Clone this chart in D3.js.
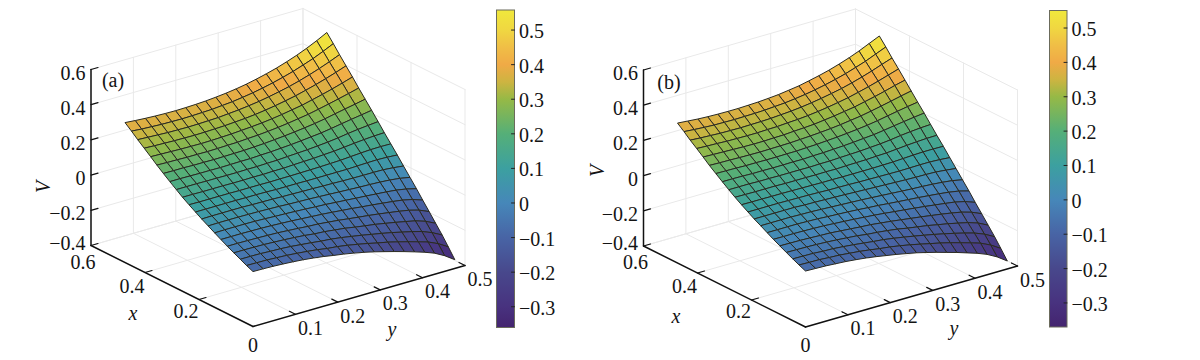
<!DOCTYPE html>
<html><head><meta charset="utf-8">
<script src="https://cdn.jsdelivr.net/npm/d3@7/dist/d3.min.js"></script>
<style>html,body{margin:0;padding:0;background:#fff}svg{display:block}text{font-family:"Liberation Serif",serif;fill:#141414}</style>
</head><body><svg id="c" width="1200" height="360"></svg>
<script>
const xGrid=[0,.024,.047,.071,.095,.119,.142,.166,.19,.213,.237,.261,.284,.308,.332,.356,.379,.403,.427,.45,.474];
const yGrid=[0,.024,.048,.071,.095,.119,.143,.167,.19,.214,.238,.262,.286,.309,.333,.357,.381,.405,.428,.452,.476];
const xTicks=[0,.2,.4,.6];
const yTicks=[0,.1,.2,.3,.4,.5];
const zTicks=[-.4,-.2,0,.2,.4,.6];
const barTicks=[-.3,-.2,-.1,0,.1,.2,.3,.4,.5];
const colorStops=[-.37,-.3,-.2,-.1,0,.1,.2,.3,.35,.4,.45,.5,.56];
const colorValues=["#44246f","#48327f","#48488c","#4864a5","#4687b9","#3ca0a0","#55af78","#96b946","#cdb441","#f0aa46","#f0be46","#f0d741","#f0e83c"];
const surfaceA=[
[-.088,-.089,-.091,-.094,-.098,-.103,-.110,-.118,-.128,-.137,-.148,-.160,-.174,-.189,-.205,-.222,-.240,-.259,-.280,-.311,-.350],
[-.072,-.073,-.074,-.077,-.080,-.085,-.091,-.098,-.107,-.113,-.122,-.133,-.145,-.158,-.170,-.185,-.201,-.218,-.235,-.261,-.296],
[-.054,-.054,-.055,-.058,-.060,-.064,-.070,-.076,-.083,-.088,-.096,-.106,-.116,-.127,-.138,-.150,-.164,-.178,-.193,-.216,-.246],
[-.036,-.036,-.037,-.038,-.041,-.044,-.048,-.053,-.060,-.064,-.071,-.078,-.088,-.097,-.105,-.116,-.127,-.139,-.151,-.170,-.198],
[-.017,-.017,-.018,-.019,-.021,-.023,-.027,-.031,-.036,-.039,-.045,-.051,-.059,-.066,-.073,-.081,-.090,-.099,-.109,-.125,-.150],
[.003,.003,.003,.002,.001,-.001,-.004,-.007,-.011,-.015,-.019,-.024,-.030,-.035,-.042,-.048,-.055,-.062,-.070,-.083,-.103],
[.023,.024,.024,.024,.023,.021,.018,.016,.013,.010,.006,.003,-.002,-.006,-.011,-.015,-.020,-.025,-.031,-.041,-.056],
[.044,.045,.045,.045,.044,.043,.041,.039,.036,.034,.032,.029,.026,.023,.020,.017,.015,.012,.008,.001,-.010],
[.065,.066,.066,.066,.066,.064,.063,.062,.060,.059,.057,.056,.054,.053,.051,.050,.049,.049,.048,.043,.036],
[.087,.087,.087,.087,.087,.086,.086,.085,.083,.083,.083,.082,.082,.082,.082,.082,.084,.086,.087,.085,.081],
[.110,.109,.109,.109,.109,.108,.108,.108,.107,.108,.108,.109,.110,.111,.113,.115,.119,.123,.126,.127,.126],
[.134,.134,.133,.133,.133,.132,.132,.133,.132,.134,.134,.137,.139,.141,.145,.148,.154,.160,.165,.169,.171],
[.160,.160,.160,.159,.159,.158,.158,.159,.159,.161,.162,.166,.169,.172,.177,.182,.189,.198,.205,.211,.216],
[.187,.187,.186,.185,.185,.184,.185,.186,.186,.189,.191,.195,.199,.204,.210,.216,.225,.235,.244,.253,.262],
[.215,.214,.214,.212,.212,.211,.212,.213,.214,.217,.220,.225,.230,.236,.243,.251,.261,.273,.284,.295,.307],
[.244,.242,.241,.239,.239,.238,.239,.241,.242,.246,.249,.254,.260,.267,.276,.285,.297,.310,.323,.337,.352],
[.274,.272,.270,.268,.267,.266,.267,.269,.271,.275,.279,.284,.291,.299,.309,.319,.333,.347,.362,.379,.397],
[.304,.301,.299,.297,.296,.295,.296,.298,.300,.304,.308,.314,.322,.331,.342,.354,.369,.385,.402,.421,.442],
[.334,.331,.328,.325,.324,.323,.324,.326,.328,.333,.338,.345,.353,.363,.375,.388,.404,.422,.441,.463,.487],
[.365,.360,.357,.354,.353,.352,.353,.355,.357,.362,.367,.375,.384,.395,.408,.423,.440,.460,.480,.505,.532],
[.395,.390,.386,.383,.381,.380,.381,.383,.386,.391,.397,.405,.415,.427,.441,.457,.476,.497,.520,.547,.577]];
const surfaceB=[
[-.082,-.084,-.086,-.090,-.094,-.100,-.107,-.116,-.126,-.136,-.148,-.160,-.175,-.190,-.207,-.224,-.243,-.262,-.284,-.315,-.355],
[-.066,-.068,-.069,-.073,-.076,-.082,-.088,-.096,-.105,-.112,-.122,-.133,-.146,-.159,-.172,-.187,-.204,-.221,-.239,-.266,-.302],
[-.049,-.050,-.051,-.055,-.057,-.062,-.068,-.075,-.082,-.088,-.097,-.107,-.118,-.129,-.141,-.154,-.168,-.183,-.199,-.222,-.253],
[-.031,-.032,-.033,-.035,-.038,-.042,-.047,-.052,-.060,-.065,-.072,-.080,-.091,-.100,-.109,-.121,-.132,-.145,-.158,-.177,-.206],
[-.012,-.013,-.014,-.016,-.019,-.021,-.026,-.031,-.036,-.040,-.047,-.054,-.062,-.070,-.078,-.087,-.096,-.106,-.117,-.134,-.159],
[.007,.006,.006,.005,.003,.001,-.003,-.007,-.011,-.016,-.021,-.027,-.034,-.040,-.047,-.054,-.062,-.070,-.078,-.092,-.113],
[.027,.027,.027,.027,.025,.023,.019,.016,.013,.009,.004,.000,-.006,-.011,-.016,-.021,-.027,-.033,-.040,-.050,-.066],
[.048,.048,.048,.048,.046,.045,.042,.039,.036,.033,.030,.026,.022,.018,.014,.010,.007,.003,-.002,-.009,-.021],
[.068,.068,.068,.068,.068,.065,.064,.062,.060,.058,.055,.053,.050,.048,.045,.043,.041,.040,.038,.032,.025],
[.090,.090,.090,.090,.089,.088,.087,.085,.083,.082,.081,.079,.078,.077,.076,.075,.076,.077,.077,.074,.069],
[.113,.112,.112,.111,.111,.110,.109,.108,.107,.107,.106,.106,.106,.106,.107,.108,.111,.114,.116,.116,.115],
[.137,.136,.135,.135,.135,.133,.133,.133,.132,.133,.132,.134,.135,.136,.139,.141,.146,.151,.155,.158,.159],
[.162,.162,.162,.160,.160,.159,.159,.159,.158,.160,.160,.163,.165,.167,.171,.175,.181,.189,.195,.200,.203],
[.189,.189,.188,.186,.186,.185,.185,.186,.185,.188,.189,.192,.195,.199,.204,.209,.217,.226,.234,.242,.249],
[.217,.216,.215,.213,.213,.212,.212,.213,.213,.216,.218,.222,.226,.231,.237,.244,.253,.264,.274,.284,.293],
[.245,.243,.242,.240,.239,.238,.239,.240,.241,.244,.247,.251,.256,.262,.270,.278,.289,.301,.313,.326,.338],
[.275,.273,.271,.269,.267,.266,.266,.268,.269,.273,.276,.280,.287,.294,.303,.312,.325,.338,.352,.368,.382],
[.305,.302,.300,.297,.296,.295,.295,.297,.298,.302,.305,.310,.317,.325,.335,.346,.360,.375,.391,.409,.427],
[.334,.330,.327,.324,.323,.322,.323,.324,.326,.330,.334,.340,.348,.357,.368,.380,.395,.412,.430,.451,.471],
[.365,.360,.356,.353,.352,.351,.352,.353,.355,.359,.363,.370,.378,.388,.400,.414,.430,.449,.468,.492,.516],
[.395,.390,.385,.382,.380,.379,.379,.381,.383,.387,.392,.400,.408,.420,.433,.448,.466,.486,.508,.534,.560]];

const fmt=v=>(v<0?"\u2212":"")+(Math.abs(v)<1e-9?"0":String(+Math.abs(v).toFixed(1)));
const color=d3.scaleLinear().domain(colorStops).range(colorValues).clamp(true);
const svg=d3.select("#c");

function panel(cfg,surface){
  const g=svg.append("g");
  const xh=d3.scaleLinear().domain([0,.6]).range([0,-162]);
  const xv=d3.scaleLinear().domain([0,.6]).range([0,-81]);
  const yh=d3.scaleLinear().domain([0,.5]).range([0,212]);
  const yv=d3.scaleLinear().domain([0,.5]).range([0,-61]);
  const zv=d3.scaleLinear().domain([-.4,.6]).range([0,-176]);
  const P=(x,y,z)=>[cfg.ox+xh(x)+yh(y),cfg.oy+xv(x)+yv(y)+zv(z)];
  const seg=(a,b,col,w)=>g.append("line").attr("x1",a[0]).attr("y1",a[1]).attr("x2",b[0]).attr("y2",b[1]).attr("stroke",col).attr("stroke-width",w).attr("stroke-linecap","round");
  const gc="#e9e9e9", X=.6, Y=.5, Z0=-.4, Z1=.6;
  yTicks.forEach(y=>{seg(P(X,y,Z0),P(X,y,Z1),gc,1);seg(P(0,y,Z0),P(X,y,Z0),gc,1);});
  xTicks.forEach(x=>{seg(P(x,Y,Z0),P(x,Y,Z1),gc,1);seg(P(x,0,Z0),P(x,Y,Z0),gc,1);});
  zTicks.forEach(z=>{seg(P(X,0,z),P(X,Y,z),gc,1);seg(P(0,Y,z),P(X,Y,z),gc,1);});
  const cells=[];
  for(let i=xGrid.length-2;i>=0;i--)for(let j=yGrid.length-2;j>=0;j--)cells.push([i,j]);
  g.append("g").selectAll("path").data(cells).join("path")
    .attr("d",([i,j])=>"M"+[P(xGrid[i],yGrid[j],surface[i][j]),P(xGrid[i+1],yGrid[j],surface[i+1][j]),P(xGrid[i+1],yGrid[j+1],surface[i+1][j+1]),P(xGrid[i],yGrid[j+1],surface[i][j+1])].map(p=>p.map(v=>v.toFixed(2)).join(",")).join("L")+"Z")
    .attr("fill",([i,j])=>color((surface[i][j]+surface[i+1][j]+surface[i+1][j+1]+surface[i][j+1])/4))
    .attr("stroke","#2a2a22").attr("stroke-width",1).attr("stroke-linejoin","round");
  const ac="#111", aw=1.5;
  seg(P(X,0,Z0),P(X,0,Z1),ac,aw);
  seg(P(X,0,Z0),P(0,0,Z0),ac,aw);
  seg(P(0,0,Z0),P(0,Y,Z0),ac,aw);
  const label=(t,x,y,o={})=>g.append("text").attr("x",x).attr("y",y).attr("text-anchor",o.a||"middle").attr("dominant-baseline","central").attr("font-size",o.s||20).attr("font-style",o.i?"italic":null).attr("transform",o.r?`rotate(${o.r} ${x} ${y})`:null).text(t);
  zTicks.forEach(z=>{const p=P(X,0,z);seg(p,[p[0]+7,p[1]-2],ac,1.2);label(fmt(z),p[0]-5.5,z===-.4?p[1]-3:p[1]+3,{a:"end"});});
  const xOff={0:[0,18],.2:[-13,11],.4:[-13,13],.6:[-8,16]};
  xTicks.forEach(x=>{const p=P(x,0,Z0);if(x>0&&x<.6)seg(p,[p[0]+7,p[1]-2],ac,1.2);label(fmt(x),p[0]+xOff[x][0],p[1]+xOff[x][1]);});
  yTicks.forEach(y=>{const p=P(0,y,Z0);if(y>0){seg(p,[p[0]-6,p[1]-3],ac,1.2);label(fmt(y),p[0]+15,p[1]+13.5);}});
  const T=cfg.titles;
  label("V",T.V[0],T.V[1],{i:1,r:-90});
  label("x",T.x[0],T.x[1],{i:1});
  label("y",T.y[0],T.y[1],{i:1});
  label(cfg.tag,T.tag[0],T.tag[1]);
  const b=cfg.bar;
  const bs=d3.scaleLinear().domain(b.domain).range([b.y1,b.y0]);
  const id="grad"+cfg.tag[1];
  const lg=svg.append("defs").append("linearGradient").attr("id",id).attr("x1",0).attr("y1",1).attr("x2",0).attr("y2",0);
  colorStops.forEach(v=>{const f=(v-b.domain[0])/(b.domain[1]-b.domain[0]);if(f>=-.02&&f<=1.02)lg.append("stop").attr("offset",Math.max(0,Math.min(1,f))).attr("stop-color",color(v));});
  g.append("rect").attr("x",b.x).attr("y",b.y0).attr("width",b.w).attr("height",b.y1-b.y0).attr("fill",`url(#${id})`).attr("stroke","#6b6b5c").attr("stroke-width",1);
  barTicks.forEach(v=>{const y=bs(v);seg([b.x+b.w,y],[b.x+b.w-3,y],"#222",1);label(fmt(v),b.x+b.w+4.5,y+1,{a:"start"});});
}
panel({ox:253,oy:326.5,tag:"(a)",titles:{V:[43,187],x:[133,313],y:[392,329],tag:[113,80]},bar:{x:496.5,w:18,y0:10,y1:327.5,domain:[-.36,.558]}},surfaceA);
panel({ox:805.5,oy:327,tag:"(b)",titles:{V:[597,171],x:[676,316],y:[954,328],tag:[669,82]},bar:{x:1049.5,w:17.5,y0:10.5,y1:327,domain:[-.37,.551]}},surfaceB);
</script></body></html>
